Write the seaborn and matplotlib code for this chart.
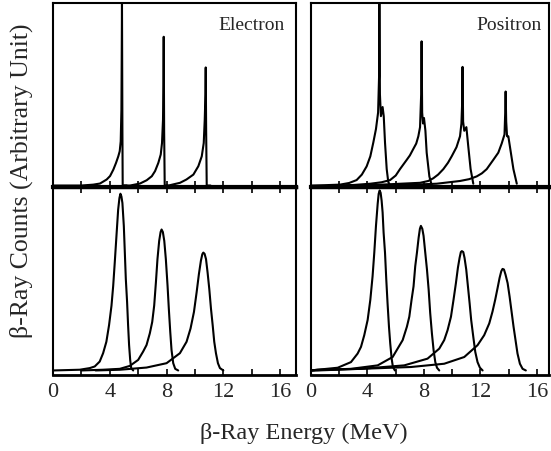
import numpy as np
import pandas as pd
import matplotlib
matplotlib.use("Agg")
import matplotlib.pyplot as plt
from matplotlib.ticker import MultipleLocator
import seaborn as sns

# ---------------- data ----------------
# Top-left: Electron, measured spectra (sharp peaks)
e_top1_x = [0.0, 2.0, 2.84, 3.31, 3.78, 4.02, 4.25, 4.44, 4.6, 4.7, 4.77, 4.82, 4.84, 4.86, 4.89, 4.91, 5.2]
e_top1_y = [0.0, 0.0, 0.005, 0.011, 0.033, 0.052, 0.087, 0.124, 0.16, 0.188, 0.242, 0.415, 0.69, 1.0, 0.3, 0.0, 0.0]
e_top2_x = [5.0, 5.43, 6.13, 6.6, 6.96, 7.19, 7.42, 7.59, 7.68, 7.75, 7.78, 7.8, 7.83, 7.87, 8.1]
e_top2_y = [0.0, 0.0, 0.011, 0.029, 0.051, 0.079, 0.124, 0.17, 0.233, 0.36, 0.55, 0.815, 0.3, 0.0, 0.0]
e_top3_x = [8.0, 8.13, 8.95, 9.4, 9.89, 10.24, 10.48, 10.62, 10.69, 10.74, 10.76, 10.79, 10.83, 11.1]
e_top3_y = [0.0, 0.0, 0.015, 0.033, 0.06, 0.106, 0.16, 0.233, 0.36, 0.5, 0.647, 0.3, 0.0, 0.0]

# Top-right: Positron, measured spectra
p_top1_x = [0.0, 1.0, 2.05, 2.7, 3.23, 3.6, 3.94, 4.2, 4.41, 4.6, 4.75, 4.82, 4.84, 4.88, 4.95, 5.07, 5.15, 5.24, 5.36, 5.47, 5.6]
p_top1_y = [0.0, 0.002, 0.005, 0.014, 0.03, 0.06, 0.105, 0.16, 0.235, 0.31, 0.4, 0.6, 1.0, 0.5, 0.38, 0.43, 0.38, 0.235, 0.09, 0.02, 0.0]
p_top2_x = [1.5, 3.0, 4.2, 5.0, 5.6, 6.0, 6.3, 6.77, 7.0, 7.24, 7.45, 7.6, 7.72, 7.8, 7.83, 7.87, 7.93, 8.0, 8.1, 8.19, 8.38, 8.55]
p_top2_y = [0.0, 0.003, 0.01, 0.018, 0.03, 0.055, 0.09, 0.14, 0.165, 0.2, 0.23, 0.27, 0.32, 0.5, 0.79, 0.4, 0.34, 0.37, 0.3, 0.18, 0.05, 0.0]
p_top3_x = [2.5, 5.0, 7.72, 8.3, 8.66, 9.0, 9.37, 9.7, 9.96, 10.3, 10.55, 10.65, 10.7, 10.73, 10.77, 10.85, 11.0, 11.14, 11.3, 11.49]
p_top3_y = [0.0, 0.005, 0.015, 0.025, 0.04, 0.06, 0.09, 0.125, 0.16, 0.21, 0.27, 0.34, 0.45, 0.65, 0.35, 0.3, 0.32, 0.21, 0.09, 0.01]
p_top4_x = [4.0, 7.0, 8.9, 10.55, 11.2, 11.73, 12.1, 12.44, 12.9, 13.26, 13.5, 13.7, 13.75, 13.78, 13.82, 13.88, 13.97, 14.15, 14.33, 14.57]
p_top4_y = [0.0, 0.004, 0.01, 0.025, 0.035, 0.05, 0.067, 0.09, 0.14, 0.18, 0.23, 0.28, 0.4, 0.515, 0.35, 0.27, 0.27, 0.18, 0.09, 0.01]

# Bottom-left: Electron, smoothed spectra
e_bot1_x = [0.0, 1.88, 2.59, 2.94, 3.29, 3.53, 3.76, 3.95, 4.12, 4.24, 4.35, 4.47, 4.59, 4.68, 4.75,
            4.82, 4.89, 4.99, 5.06, 5.13, 5.22, 5.29, 5.36, 5.44, 5.51, 5.65]
e_bot1_y = [0.0, 0.004, 0.013, 0.022, 0.049, 0.095, 0.158, 0.25, 0.356, 0.465, 0.593, 0.74, 0.885, 0.949, 0.973,
            0.958, 0.922, 0.795, 0.65, 0.504, 0.377, 0.25, 0.14, 0.056, 0.013, 0.0]
e_bot2_x = [2.0, 3.53, 4.71, 5.41, 6.0, 6.35, 6.59, 6.82, 6.99, 7.13, 7.25, 7.36, 7.48, 7.58, 7.65, 7.74,
            7.84, 7.95, 8.07, 8.16, 8.26, 8.35, 8.47, 8.61, 8.82]
e_bot2_y = [0.0, 0.004, 0.009, 0.025, 0.058, 0.104, 0.14, 0.204, 0.267, 0.358, 0.485, 0.613, 0.713, 0.762, 0.776, 0.762,
            0.713, 0.613, 0.467, 0.34, 0.213, 0.113, 0.04, 0.009, 0.0]
e_bot3_x = [3.0, 4.71, 6.59, 8.0, 8.94, 9.41, 9.69, 9.93, 10.12, 10.28, 10.42, 10.52, 10.59, 10.68, 10.78,
            10.89, 11.01, 11.13, 11.25, 11.36, 11.48, 11.62, 11.76, 12.0]
e_bot3_y = [0.0, 0.004, 0.016, 0.04, 0.095, 0.158, 0.231, 0.322, 0.431, 0.531, 0.604, 0.64, 0.649, 0.642, 0.613,
            0.54, 0.449, 0.34, 0.249, 0.158, 0.095, 0.04, 0.013, 0.0]

# Bottom-right: Positron, smoothed spectra
p_bot1_x = [0.0, 0.47, 1.89, 2.83, 3.3, 3.54, 3.77, 4.01, 4.2, 4.36, 4.48, 4.6, 4.72, 4.79, 4.86, 4.93,
            5.0, 5.07, 5.14, 5.24, 5.33, 5.42, 5.52, 5.61, 5.71, 5.8, 5.94]
p_bot1_y = [0.0, 0.004, 0.015, 0.046, 0.093, 0.13, 0.194, 0.278, 0.389, 0.519, 0.648, 0.796, 0.917, 0.972, 0.991, 0.978,
            0.935, 0.87, 0.759, 0.648, 0.5, 0.37, 0.241, 0.148, 0.065, 0.019, 0.0]
p_bot2_x = [0.0, 0.47, 2.83, 4.72, 5.78, 6.49, 6.79, 6.96, 7.12, 7.26, 7.38, 7.5, 7.62, 7.71, 7.78, 7.88,
            7.97, 8.09, 8.21, 8.33, 8.44, 8.56, 8.68, 8.8, 8.92, 9.08]
p_bot2_y = [0.0, 0.002, 0.009, 0.028, 0.074, 0.167, 0.241, 0.296, 0.389, 0.463, 0.574, 0.648, 0.731, 0.78, 0.796, 0.78,
            0.741, 0.648, 0.556, 0.444, 0.315, 0.204, 0.111, 0.046, 0.015, 0.0]
p_bot3_x = [0.0, 0.47, 3.54, 6.6, 8.25, 9.08, 9.43, 9.67, 9.91, 10.09, 10.26, 10.4, 10.52, 10.61, 10.68, 10.78,
            10.87, 10.99, 11.11, 11.23, 11.34, 11.49, 11.63, 11.79, 11.96, 12.15]
p_bot3_y = [0.0, 0.0, 0.009, 0.028, 0.065, 0.12, 0.167, 0.222, 0.296, 0.389, 0.481, 0.565, 0.62, 0.652, 0.657, 0.652,
            0.62, 0.556, 0.463, 0.37, 0.278, 0.185, 0.102, 0.046, 0.015, 0.0]
p_bot4_x = [0.0, 0.47, 3.54, 7.08, 9.43, 10.85, 11.79, 12.26, 12.62, 12.85, 13.04, 13.21, 13.35, 13.47, 13.56,
            13.66, 13.77, 13.92, 14.06, 14.2, 14.34, 14.48, 14.62, 14.79, 14.98, 15.21]
p_bot4_y = [0.0, 0.004, 0.009, 0.019, 0.037, 0.074, 0.139, 0.194, 0.259, 0.324, 0.389, 0.454, 0.509, 0.546, 0.559,
            0.556, 0.528, 0.481, 0.407, 0.324, 0.241, 0.167, 0.093, 0.037, 0.009, 0.0]

x_ticks = [0, 4, 8, 12, 16]
x_tick_labels = ["0", "4", "8", "12", "16"]
panel_titles = ["Electron", "Positron"]
x_label = "\u03b2-Ray Energy (MeV)"
y_label = "\u03b2-Ray Counts (Arbitrary Unit)"

# ---------------- plotting ----------------
sns.set_style("white")
plt.rcParams["font.family"] = ["Liberation Serif", "DejaVu Serif"]

W, H = 551, 451
fig = plt.figure(figsize=(W / 100, H / 100), dpi=100)

def ax_at(x0, y0, x1, y1):
    return fig.add_axes([x0 / W, 1 - y1 / H, (x1 - x0) / W, (y1 - y0) / H])

ax_tl = ax_at(53, 3, 296, 187)
ax_tr = ax_at(311, 3, 549, 187)
ax_bl = ax_at(53, 187, 296, 375)
ax_br = ax_at(311, 187, 549, 375)

def draw(ax, curves):
    for xs, ys in curves:
        df = pd.DataFrame({"E": xs, "C": ys})
        sns.lineplot(data=df, x="E", y="C", ax=ax, color="black", lw=1.5,
                     sort=False, estimator=None)

draw(ax_tl, [(e_top1_x, e_top1_y), (e_top2_x, e_top2_y), (e_top3_x, e_top3_y)])
draw(ax_tr, [(p_top1_x, p_top1_y), (p_top2_x, p_top2_y), (p_top3_x, p_top3_y), (p_top4_x, p_top4_y)])
draw(ax_bl, [(e_bot1_x, e_bot1_y), (e_bot2_x, e_bot2_y), (e_bot3_x, e_bot3_y)])
draw(ax_br, [(p_bot1_x, p_bot1_y), (p_bot2_x, p_bot2_y), (p_bot3_x, p_bot3_y), (p_bot4_x, p_bot4_y)])

for ax, xmax in [(ax_tl, 17.12), (ax_bl, 17.12), (ax_tr, 16.85), (ax_br, 16.85)]:
    ax.set_xlim(0, xmax)
    ax.set_xlabel("")
    ax.set_ylabel("")
    ax.set_yticks([])
    ax.xaxis.set_major_locator(MultipleLocator(4))
    ax.xaxis.set_minor_locator(MultipleLocator(2))
    for s in ax.spines.values():
        s.set_color("black")
        s.set_linewidth(1.5)

for ax in (ax_tl, ax_tr):
    ax.set_ylim(-0.008, 1.0)
    ax.tick_params(axis="x", which="both", direction="in", bottom=True, top=False,
                   labelbottom=False, length=4, width=1.2, color="black")
    ax.spines["bottom"].set_linewidth(3.0)

for ax in (ax_bl, ax_br):
    ax.set_ylim(-0.025, 1.01)
    ax.tick_params(axis="x", which="both", direction="in", bottom=True, top=True,
                   labelbottom=True, length=4, width=1.2, color="black",
                   labelsize=16, pad=6)
    ax.set_xticks(x_ticks)
    ax.set_xticklabels(x_tick_labels)
    ax.spines["top"].set_linewidth(2.5)
    ax.spines["bottom"].set_linewidth(2.0)

ax_tl.text(0.955, 0.88, panel_titles[0], transform=ax_tl.transAxes,
           ha="right", va="center", fontsize=14)
ax_tr.text(0.97, 0.88, panel_titles[1], transform=ax_tr.transAxes,
           ha="right", va="center", fontsize=14)

fig.text(304 / W, 1 - 433 / H, x_label, ha="center", va="center", fontsize=17.5)
fig.text(21 / W, 1 - 181 / H, y_label, ha="center", va="center",
         rotation=90, fontsize=18.5)

fig.savefig("out.png", dpi=100, facecolor="white")
